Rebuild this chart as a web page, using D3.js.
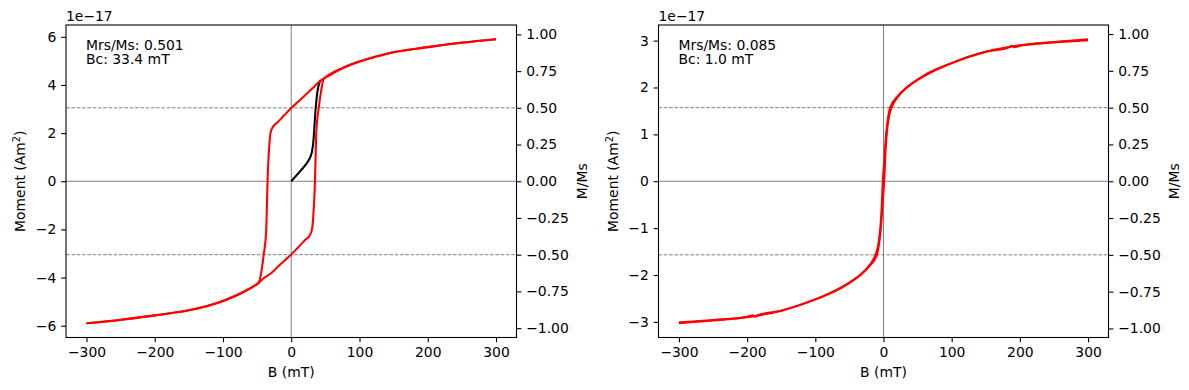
<!DOCTYPE html>
<html>
<head>
<meta charset="utf-8">
<script src="https://cdn.jsdelivr.net/npm/d3@7"></script>
<style>
  body { margin: 0; background: #fff; }
  svg text { font-family: "DejaVu Sans", sans-serif; fill: #000; }
</style>
</head>
<body>
<svg id="chart" width="1189" height="390"></svg>
<script>
// tick values
var fieldTicks = [-300, -200, -100, 0, 100, 200, 300];
var ratioTicks = [-1, -0.75, -0.5, -0.25, 0, 0.25, 0.5, 0.75, 1];
var momentTicksA = [-6, -4, -2, 0, 2, 4, 6];
var momentTicksB = [-3, -2, -1, 0, 1, 2, 3];

// sample A (moment in units of 1e-17 Am2)
var upFieldA = [-300,-250,-200,-150,-100,-70,-55,-47.5,-43.5,-40.2,-36.7,-35.5,-34.5,-32.8,-30.4,-27,-20,-10,0,10,20,30,43,50,60,75,87,100,143,200,250,300];
var upMomentA = [-5.90,-5.76,-5.57,-5.36,-4.97,-4.60,-4.36,-4.21,-3.70,-3.03,-2.03,-0.80,0.20,1.20,2.00,2.25,2.45,2.75,3.04,3.30,3.56,3.83,4.18,4.32,4.50,4.70,4.85,4.97,5.32,5.57,5.75,5.90];
var lowFieldA = [-300,-250,-200,-150,-100,-70,-47.5,-40,-30,-20,-10,0,10,20,27,30.4,32.8,34.5,35.5,36.7,40.2,43.5,47.5,55,70,100,150,200,250,300];
var lowMomentA = [-5.90,-5.75,-5.57,-5.36,-4.97,-4.60,-4.21,-4.02,-3.83,-3.56,-3.30,-3.04,-2.75,-2.45,-2.25,-2.00,-1.20,-0.20,0.80,2.03,3.03,3.70,4.24,4.38,4.62,4.97,5.36,5.57,5.76,5.90];
var virginFieldA = [0,14.7,24.4,28.3,30.5,32.2,35.6,38.1,43];
var virginMomentA = [0,0.47,0.82,1.03,1.25,1.58,2.97,3.67,4.2];
var msA = 6.10;
var statsA = ["Mrs/Ms: 0.501", "Bc: 33.4 mT"];

// sample B
var upFieldB = [-300,-250,-200,-192,-188,-184,-150,-100,-61,-50,-34,-19,-12,-8,-5,-3,-1,1,3,6,10,20,35,50,75,100,150,200,250,300];
var upMomentB = [-3.01,-2.96,-2.89,-2.86,-2.89,-2.86,-2.76,-2.52,-2.27,-2.17,-2.00,-1.76,-1.58,-1.38,-1.05,-0.65,0,0.40,0.85,1.28,1.58,1.80,2.01,2.16,2.36,2.52,2.76,2.90,2.97,3.03];
var lowFieldB = [-300,-250,-200,-150,-100,-75,-50,-35,-20,-10,-6,-3,-1,1,3,5,8,12,19,34,50,61,100,150,184,188,192,200,250,300];
var lowMomentB = [-3.03,-2.97,-2.90,-2.76,-2.52,-2.36,-2.16,-2.01,-1.80,-1.58,-1.28,-0.85,-0.40,0,0.65,1.05,1.38,1.58,1.76,2.00,2.17,2.27,2.52,2.76,2.86,2.89,2.86,2.89,2.96,3.01];
var msB = 3.14;
var statsB = ["Mrs/Ms: 0.085", "Bc: 1.0 mT"];

var fontSize = "13.9px";
var svg = d3.select("#chart");

function styleAxis(g) {
    g.attr("font-size", null).attr("font-family", null);
    g.select(".domain").remove();
    g.selectAll(".tick line").attr("stroke", "#000").attr("stroke-width", 1.1);
    g.selectAll(".tick text").style("font-size", fontSize);
}

function drawPanel(p) {
    var w = p.right - p.left;
    var h = p.bottom - p.top;
    var g = svg.append("g").attr("transform", "translate(" + p.left + "," + p.top + ")");

    var allM = p.upM.concat(p.lowM).concat(p.virM || []);
    var mMax = d3.max(allM), mMin = d3.min(allM);
    var mPad = (mMax - mMin) * 0.05;
    var allB = p.upB.concat(p.lowB);
    var bMax = d3.max(allB), bMin = d3.min(allB);
    var bPad = (bMax - bMin) * 0.05;

    var x = d3.scaleLinear().domain([bMin - bPad, bMax + bPad]).range([0, w]);
    var y = d3.scaleLinear().domain([mMin - mPad, mMax + mPad]).range([h, 0]);
    var y2 = d3.scaleLinear().domain([(mMin - mPad) / p.ms, (mMax + mPad) / p.ms]).range([h, 0]);

    // zero lines
    g.append("line").attr("x1", 0).attr("x2", w).attr("y1", y(0)).attr("y2", y(0))
        .attr("stroke", "gray").attr("stroke-width", 1);
    g.append("line").attr("x1", x(0)).attr("x2", x(0)).attr("y1", 0).attr("y2", h)
        .attr("stroke", "gray").attr("stroke-width", 1);

    // half saturation lines
    [0.5, -0.5].forEach(function(r) {
        g.append("line").attr("x1", 0).attr("x2", w).attr("y1", y2(r)).attr("y2", y2(r))
            .attr("stroke", "gray").attr("stroke-width", 1).attr("stroke-dasharray", "3.7,1.6");
    });

    var line = d3.line()
        .x(function(d) { return x(d[0]); })
        .y(function(d) { return y(d[1]); })
        .curve(d3.curveMonotoneX);

    if (p.virB) {
        g.append("path").datum(d3.zip(p.virB, p.virM)).attr("d", line)
            .attr("fill", "none").attr("stroke", "black").attr("stroke-width", 2.08);
    }
    g.append("path").datum(d3.zip(p.upB, p.upM)).attr("d", line)
        .attr("fill", "none").attr("stroke", "red").attr("stroke-width", 2.08);
    g.append("path").datum(d3.zip(p.lowB, p.lowM)).attr("d", line)
        .attr("fill", "none").attr("stroke", "red").attr("stroke-width", 2.08);

    // axes
    var gx = g.append("g").attr("transform", "translate(0," + h + ")")
        .call(d3.axisBottom(x).tickValues(fieldTicks).tickSize(4.86).tickPadding(4.86).tickFormat(d3.format("d")));
    styleAxis(gx);
    var gy = g.append("g")
        .call(d3.axisLeft(y).tickValues(p.mTicks).tickSize(4.86).tickPadding(4.86).tickFormat(d3.format("d")));
    styleAxis(gy);
    var gy2 = g.append("g").attr("transform", "translate(" + w + ",0)")
        .call(d3.axisRight(y2).tickValues(ratioTicks).tickSize(4.86).tickPadding(4.86).tickFormat(d3.format(".2f")));
    styleAxis(gy2);

    // frame
    g.append("rect").attr("x", 0).attr("y", 0).attr("width", w).attr("height", h)
        .attr("fill", "none").attr("stroke", "#000").attr("stroke-width", 1.1);

    // offset text
    g.append("text").attr("x", 0).attr("y", -4.3).style("font-size", fontSize).text("1e\u221217");

    // stats
    g.append("text").attr("x", 20).attr("y", 25).style("font-size", fontSize).text(p.stats[0]);
    g.append("text").attr("x", 20).attr("y", 39.3).style("font-size", fontSize).text(p.stats[1]);

    // labels
    g.append("text").attr("x", w / 2).attr("y", h + 39.4).attr("text-anchor", "middle")
        .style("font-size", fontSize).text("B (mT)");
    var yl = g.append("text").attr("transform", "translate(-41," + (h / 2) + ") rotate(-90)")
        .attr("text-anchor", "middle").style("font-size", fontSize);
    yl.append("tspan").text("Moment (Am");
    yl.append("tspan").attr("dy", -5).style("font-size", "9.7px").text("2");
    yl.append("tspan").attr("dy", 5).text(")");
    g.append("text").attr("transform", "translate(" + (w + 70) + "," + (h / 2) + ") rotate(-90)")
        .attr("text-anchor", "middle").style("font-size", fontSize).text("M/Ms");
}

drawPanel({left: 66, right: 516.5, top: 25, bottom: 337.5,
    upB: upFieldA, upM: upMomentA, lowB: lowFieldA, lowM: lowMomentA,
    virB: virginFieldA, virM: virginMomentA, ms: msA, mTicks: momentTicksA, stats: statsA});
drawPanel({left: 658.5, right: 1108.5, top: 25, bottom: 337.5,
    upB: upFieldB, upM: upMomentB, lowB: lowFieldB, lowM: lowMomentB,
    ms: msB, mTicks: momentTicksB, stats: statsB});
</script>
</body>
</html>
